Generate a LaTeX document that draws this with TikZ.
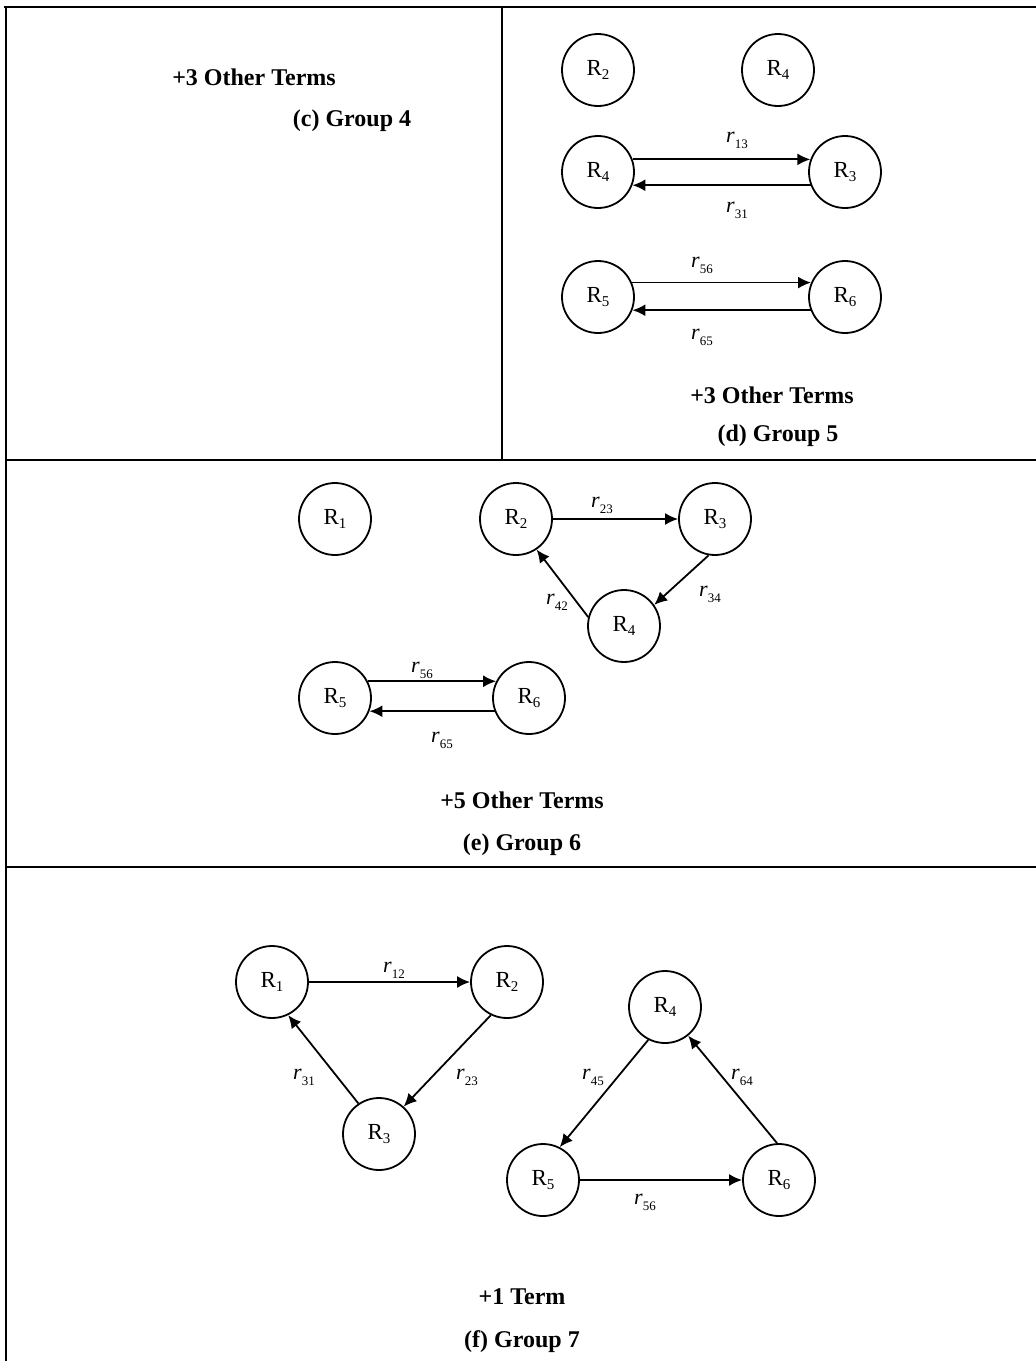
\documentclass[tikz,border=0pt]{standalone}
\usepackage{fontspec}
\setmainfont{Liberation Serif}
\usetikzlibrary{arrows.meta}

% region and rate labels with lowered indices
\newcommand{\Rsub}[1]{R\raisebox{-0.35ex}{\fontsize{15}{15}\selectfont #1}}
\newcommand{\rsub}[1]{\textit{r}\raisebox{-0.6ex}{\fontsize{13}{13}\selectfont #1}}

\begin{document}
\begin{tikzpicture}[x=1pt,y=-1pt,
    reg/.style={circle,draw,line width=1.8pt,minimum size=72pt,inner sep=0pt,
      font=\fontsize{23}{25}\selectfont},
    rate/.style={font=\fontsize{22}{24}\selectfont},
    caption/.style={font=\fontsize{24}{28}\selectfont\bfseries},
    link/.style={line width=1.8pt,-{Latex[length=13pt,width=12pt]}},
    rule/.style={line width=2pt}]

\useasboundingbox (0,0) rectangle (1036,1361);

% table rules
\draw[rule,line width=2.6pt] (4,7) -- (1036,7);
\draw[rule] (6,7) -- (6,1361);
\draw[rule] (502,7) -- (502,460);
\draw[rule] (6,460) -- (1036,460);
\draw[rule,line width=2.6pt] (6,867) -- (1036,867);

% (c) group 4
\node[caption] (c4terms) at (254,77) {+3 Other Terms};
\node[caption] (c4name) at (352,121) {(c) Group 4};

% (d) group 5
\node[reg] (d2) at (598,70) {\Rsub{2}};
\node[reg] (d4top) at (778,70) {\Rsub{4}};
\node[reg] (d4) at (598,172) {\Rsub{4}};
\node[reg] (d3) at (845,172) {\Rsub{3}};
\node[reg] (d5) at (598,297) {\Rsub{5}};
\node[reg] (d6) at (845,297) {\Rsub{6}};

\draw[link] (d4.20) -- (d3.160);
\draw[link] (d3.201) -- (d4.-21);
\draw[link] (d5.23) -- (d6.157);
\draw[link] (d6.201) -- (d5.-21);

\node[rate] (d13) at (737,140) {\rsub{13}};
\node[rate] (d31) at (737,210) {\rsub{31}};
\node[rate] (d56) at (702,265) {\rsub{56}};
\node[rate] (d65) at (702,337) {\rsub{65}};

\node[caption] (d5terms) at (772,395) {+3 Other Terms};
\node[caption] (d5name) at (778,436) {(d) Group 5};

% (e) group 6
\node[reg] (e1) at (335,519) {\Rsub{1}};
\node[reg] (e2) at (516,519) {\Rsub{2}};
\node[reg] (e3) at (715,519) {\Rsub{3}};
\node[reg] (e4) at (624,626) {\Rsub{4}};
\node[reg] (e5) at (335,698) {\Rsub{5}};
\node[reg] (e6) at (529,698) {\Rsub{6}};

\draw[link] (e2) -- (e3);
\draw[link] (e3.260) -- (e4.35);
\draw[link] (e4.166) -- (e2.304);
\draw[link] (e5.27) -- (e6.153);
\draw[link] (e6.201) -- (e5.-21);

\node[rate] (e23) at (602,505) {\rsub{23}};
\node[rate] (e34) at (710,594) {\rsub{34}};
\node[rate] (e42) at (557,602) {\rsub{42}};
\node[rate] (e56) at (422,670) {\rsub{56}};
\node[rate] (e65) at (442,740) {\rsub{65}};

\node[caption] (e6terms) at (522,800) {+5 Other Terms};
\node[caption] (e6name) at (522,845) {(e) Group 6};

% (f) group 7
\node[reg] (f1) at (272,982) {\Rsub{1}};
\node[reg] (f2) at (507,982) {\Rsub{2}};
\node[reg] (f3) at (379,1134) {\Rsub{3}};
\node[reg] (f4) at (665,1007) {\Rsub{4}};
\node[reg] (f5) at (543,1180) {\Rsub{5}};
\node[reg] (f6) at (779,1180) {\Rsub{6}};

\draw[link] (f1) -- (f2);
\draw[link] (f2.244) -- (f3.48);
\draw[link] (f3.124) -- (f1.296);
\draw[link] (f4.243) -- (f5.63);
\draw[link] (f6.93) -- (f4.309);
\draw[link] (f5) -- (f6);

\node[rate] (f12) at (394,970) {\rsub{12}};
\node[rate] (f31) at (304,1077) {\rsub{31}};
\node[rate] (f23) at (467,1077) {\rsub{23}};
\node[rate] (f45) at (593,1077) {\rsub{45}};
\node[rate] (f64) at (742,1077) {\rsub{64}};
\node[rate] (f56) at (645,1202) {\rsub{56}};

\node[caption] (f7terms) at (522,1297) {+1 Term};
\node[caption] (f7name) at (522,1342) {(f) Group 7};
\end{tikzpicture}
\end{document}
